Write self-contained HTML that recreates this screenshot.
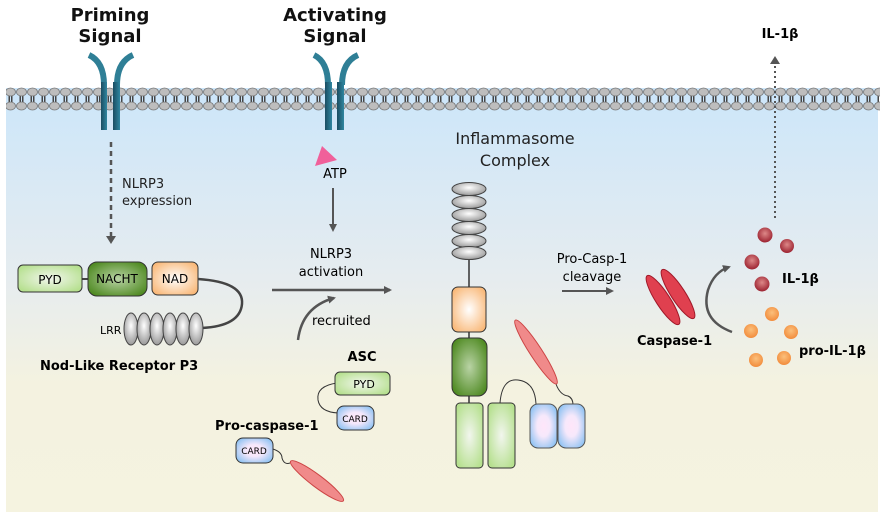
<!DOCTYPE html>
<html><head><meta charset="utf-8"><style>
html,body{margin:0;padding:0;background:#fff;}
svg{display:block;font-family:"DejaVu Sans","Liberation Sans",sans-serif;}
</style></head><body>
<svg width="884" height="517" viewBox="0 0 884 517" xmlns="http://www.w3.org/2000/svg">
<defs>
<linearGradient id="bg" x1="0" y1="0" x2="0" y2="1">
<stop offset="0" stop-color="#cce6fa"/><stop offset="0.45" stop-color="#e6ecef"/><stop offset="0.7" stop-color="#f4f2e0"/><stop offset="1" stop-color="#f5f3e0"/></linearGradient>
<pattern id="lip" x="5" y="86" width="11" height="26" patternUnits="userSpaceOnUse">
<rect x="3.5" y="8" width="1.5" height="10" fill="#444"/><rect x="6" y="8" width="1.5" height="10" fill="#444"/>
<ellipse cx="5.5" cy="6" rx="5" ry="4" fill="#bdbdbd" stroke="#777" stroke-width="0.8"/>
<ellipse cx="5.5" cy="20" rx="5" ry="4" fill="#bdbdbd" stroke="#777" stroke-width="0.8"/>
</pattern>
<radialGradient id="gray" cx="0.5" cy="0.4" r="0.6"><stop offset="0" stop-color="#fff"/><stop offset="1" stop-color="#999"/></radialGradient>
<radialGradient id="orng" cx="0.5" cy="0.5" r="0.6"><stop offset="0" stop-color="#fff"/><stop offset="1" stop-color="#f9b97a"/></radialGradient>
<radialGradient id="dg" cx="0.5" cy="0.5" r="0.6"><stop offset="0" stop-color="#b9d3a5"/><stop offset="1" stop-color="#4f8a22"/></radialGradient>
<radialGradient id="lg" cx="0.5" cy="0.5" r="0.6"><stop offset="0" stop-color="#f2f6ee"/><stop offset="1" stop-color="#b6e08f"/></radialGradient>
<radialGradient id="bl" cx="0.5" cy="0.5" r="0.6"><stop offset="0" stop-color="#ffe6fa"/><stop offset="0.4" stop-color="#f6e8fb"/><stop offset="1" stop-color="#8ec2f2"/></radialGradient>
<radialGradient id="red" cx="0.5" cy="0.4" r="0.6"><stop offset="0" stop-color="#d88"/><stop offset="1" stop-color="#9c2230"/></radialGradient>
<radialGradient id="org2" cx="0.5" cy="0.4" r="0.6"><stop offset="0" stop-color="#fbc07c"/><stop offset="1" stop-color="#f28c3c"/></radialGradient>
<linearGradient id="rc" x1="0" y1="0" x2="1" y2="0"><stop offset="0" stop-color="#1a4d62"/><stop offset="1" stop-color="#2f86a0"/></linearGradient>
<marker id="ah" markerWidth="8" markerHeight="8" refX="6" refY="4" orient="auto" markerUnits="userSpaceOnUse"><path d="M0,0 L8,4 L0,8 Z" fill="#555"/></marker>
</defs>
<rect x="6" y="88" width="872" height="424" fill="url(#bg)"/>
<rect x="6" y="86" width="874" height="26" fill="url(#lip)"/>
<g fill="none" stroke="#2f7f96" stroke-width="6">
<path d="M89,55 Q104,62 104,85"/><path d="M133,55 Q117,62 117,85"/>
<path d="M314,55 Q328,62 328,85"/><path d="M358,55 Q342,62 342,85"/>
</g>
<rect x="101" y="82" width="6" height="48" fill="url(#rc)"/><rect x="113" y="82" width="7" height="48" fill="url(#rc)"/>
<rect x="325" y="82" width="7" height="48" fill="url(#rc)"/><rect x="337" y="82" width="7" height="48" fill="url(#rc)"/>
<g font-weight="bold" font-size="18" text-anchor="middle" fill="#111">
<text x="110" y="21">Priming</text><text x="110" y="42">Signal</text>
<text x="335" y="21">Activating</text><text x="335" y="42">Signal</text>
</g>
<text x="780" y="38" font-weight="bold" font-size="13" text-anchor="middle">IL-1β</text>
<line x1="775" y1="218" x2="775" y2="62" stroke="#555" stroke-width="2" stroke-dasharray="2,3"/>
<path d="M770,64 L775,56 L780,64Z" fill="#555"/>
<line x1="111" y1="142" x2="111" y2="236" stroke="#555" stroke-width="2.5" stroke-dasharray="5,4"/>
<path d="M106,236 L111,244 L116,236Z" fill="#555"/>
<g font-size="13" fill="#222"><text x="122" y="188">NLRP3</text><text x="122" y="205">expression</text></g>
<line x1="80" y1="279" x2="155" y2="279" stroke="#444" stroke-width="2"/>
<rect x="18" y="265" width="64" height="27" rx="5" fill="url(#lg)" stroke="#333"/>
<text x="50" y="284" font-size="12" text-anchor="middle">PYD</text>
<rect x="88" y="262" width="59" height="34" rx="9" fill="url(#dg)" stroke="#333"/>
<text x="117" y="283" font-size="12" text-anchor="middle">NACHT</text>
<rect x="152" y="262" width="46" height="33" rx="6" fill="url(#orng)" stroke="#333"/>
<text x="175" y="283" font-size="12" text-anchor="middle">NAD</text>
<path d="M198,279 Q244,282 242,304 Q240,326 202,328" fill="none" stroke="#444" stroke-width="2.5"/>
<g fill="url(#gray)" stroke="#444">
<ellipse cx="131" cy="329" rx="7" ry="16"/><ellipse cx="144" cy="329" rx="7" ry="16"/><ellipse cx="157" cy="329" rx="7" ry="16"/><ellipse cx="170" cy="329" rx="7" ry="16"/><ellipse cx="183" cy="329" rx="7" ry="16"/><ellipse cx="196" cy="329" rx="7" ry="16"/>
</g>
<text x="100" y="334" font-size="11">LRR</text>
<text x="40" y="370" font-weight="bold" font-size="13">Nod-Like Receptor P3</text>
<path d="M322,146 L337,160 L315,166Z" fill="#f0609a"/>
<text x="335" y="178" font-size="13" text-anchor="middle">ATP</text>
<line x1="333" y1="188" x2="333" y2="230" stroke="#555" stroke-width="2" marker-end="url(#ah)"/>
<g font-size="13" text-anchor="middle"><text x="331" y="258">NLRP3</text><text x="331" y="276">activation</text></g>
<line x1="272" y1="290" x2="390" y2="290" stroke="#555" stroke-width="2.5" marker-end="url(#ah)"/>
<path d="M298,340 Q302,307 334,298" fill="none" stroke="#555" stroke-width="2.5" marker-end="url(#ah)"/>
<text x="312" y="325" font-size="13">recruited</text>
<text x="362" y="361" font-weight="bold" font-size="13" text-anchor="middle">ASC</text>
<path d="M337,383 Q316,386 318,400 Q320,412 338,413" fill="none" stroke="#333"/>
<rect x="335" y="372" width="55" height="23" rx="5" fill="url(#lg)" stroke="#333"/>
<text x="364" y="388" font-size="11" text-anchor="middle">PYD</text>
<rect x="337" y="406" width="37" height="24" rx="7" fill="url(#bl)" stroke="#333"/>
<text x="355" y="422" font-size="9" text-anchor="middle">CARD</text>
<text x="215" y="430" font-weight="bold" font-size="13">Pro-caspase-1</text>
<rect x="236" y="438" width="37" height="25" rx="7" fill="url(#bl)" stroke="#333"/>
<text x="254" y="454" font-size="9" text-anchor="middle">CARD</text>
<path d="M273,449 Q282,452 282,458 Q284,465 290,463" fill="none" stroke="#333"/>
<ellipse cx="317" cy="481" rx="33" ry="6" transform="rotate(37 317 481)" fill="#f08a8a" stroke="#c44"/>
<g font-size="16" text-anchor="middle" fill="#222"><text x="515" y="144">Inflammasome</text><text x="515" y="166">Complex</text></g>
<line x1="469" y1="255" x2="469" y2="410" stroke="#333" stroke-width="1.5"/>
<g fill="url(#gray)" stroke="#444">
<ellipse cx="469" cy="189" rx="17" ry="6.5"/><ellipse cx="469" cy="202" rx="17" ry="6.5"/><ellipse cx="469" cy="215" rx="17" ry="6.5"/><ellipse cx="469" cy="228" rx="17" ry="6.5"/><ellipse cx="469" cy="241" rx="17" ry="6.5"/><ellipse cx="469" cy="253" rx="17" ry="6.5"/>
</g>
<rect x="452" y="287" width="34" height="45" rx="6" fill="url(#orng)" stroke="#333"/>
<rect x="452" y="338" width="35" height="58" rx="9" fill="url(#dg)" stroke="#333"/>
<path d="M500,403 Q502,378 518,380 Q535,382 536,404" fill="none" stroke="#333"/>
<rect x="456" y="403" width="27" height="65" rx="4" fill="url(#lg)" stroke="#333"/>
<rect x="488" y="403" width="27" height="65" rx="4" fill="url(#lg)" stroke="#333"/>
<path d="M556,384 Q560,395 568,396 Q573,398 573,405" fill="none" stroke="#333"/>
<rect x="530" y="404" width="27" height="44" rx="8" fill="url(#bl)" stroke="#555"/>
<rect x="558" y="404" width="27" height="44" rx="8" fill="url(#bl)" stroke="#555"/>
<ellipse cx="536" cy="352" rx="38" ry="6" transform="rotate(57 536 352)" fill="#f08a8a" stroke="#c44"/>
<g font-size="13" text-anchor="middle"><text x="592" y="263">Pro-Casp-1</text><text x="592" y="281">cleavage</text></g>
<line x1="562" y1="291" x2="612" y2="291" stroke="#555" stroke-width="2" marker-end="url(#ah)"/>
<ellipse cx="663" cy="300" rx="29" ry="7" transform="rotate(57 663 300)" fill="#e0404f" stroke="#a01828"/>
<ellipse cx="678" cy="294" rx="29" ry="7" transform="rotate(57 678 294)" fill="#e0404f" stroke="#a01828"/>
<text x="637" y="345" font-weight="bold" font-size="13">Caspase-1</text>
<path d="M732,332 Q700,320 708,290 Q714,272 729,267" fill="none" stroke="#555" stroke-width="2.5" marker-end="url(#ah)"/>
<g fill="url(#red)"><circle cx="765" cy="235" r="7.5"/><circle cx="787" cy="246" r="7"/><circle cx="752" cy="262" r="7.5"/><circle cx="762" cy="284" r="7.5"/></g>
<text x="782" y="283" font-weight="bold" font-size="13">IL-1β</text>
<g fill="url(#org2)"><circle cx="772" cy="314" r="7"/><circle cx="751" cy="331" r="7"/><circle cx="791" cy="332" r="7"/><circle cx="756" cy="360" r="7"/><circle cx="784" cy="358" r="7"/></g>
<text x="799" y="355" font-weight="bold" font-size="13">pro-IL-1β</text>
</svg>
</body></html>
